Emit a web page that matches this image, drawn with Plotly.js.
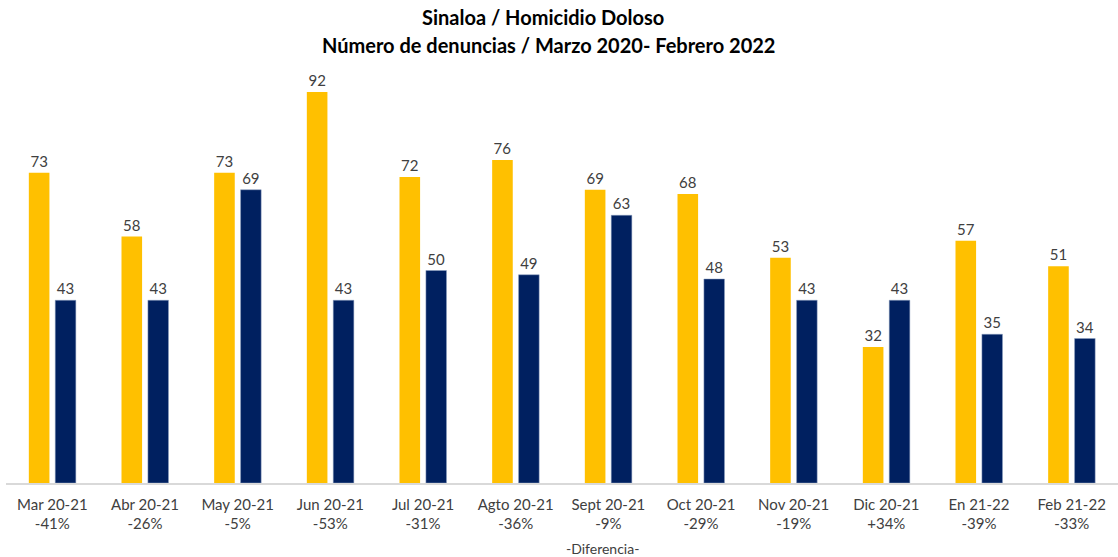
<!DOCTYPE html>
<html><head><meta charset="utf-8">
<script src="https://cdn.plot.ly/plotly-3.0.1.min.js"></script>
<style>html,body{margin:0;padding:0;background:#fff;}#chart{width:1118px;height:557px;}</style>
</head><body><div id="chart"></div>
<script>
const categories = ["Mar 20-21","Abr 20-21","May 20-21","Jun 20-21","Jul 20-21","Agto 20-21","Sept 20-21","Oct 20-21","Nov 20-21","Dic 20-21","En 21-22","Feb 21-22"];
const diferencia = ["-41%","-26%","-5%","-53%","-31%","-36%","-9%","-29%","-19%","+34%","-39%","-33%"];
const serie2020 = [73,58,73,92,72,76,69,68,53,32,57,51];
const serie2021 = [43,43,69,43,50,49,63,48,43,43,35,34];

const tickText = categories.map((c,i)=>c+"<br>"+diferencia[i]);
const fam = "Lato, 'Open Sans', sans-serif";
const labelFont = {family:fam, size:15, color:"#404040"};

const data = [
  {type:"bar", x:categories, y:serie2020, name:"2020", marker:{color:"#FFC000"},
   text:serie2020.map(String), textposition:"outside", textfont:labelFont, cliponaxis:false, hoverinfo:"skip"},
  {type:"bar", x:categories, y:serie2021, name:"2021", marker:{color:"#002060", line:{color:"#8fa0c0", width:0.5}},
   text:serie2021.map(String), textposition:"outside", textfont:labelFont, cliponaxis:false, hoverinfo:"skip"}
];

const layout = {
  width:1118, height:557,
  margin:{l:6, r:0, t:58, b:74},
  paper_bgcolor:"#fff", plot_bgcolor:"#fff",
  showlegend:false,
  barmode:"group", bargap:0.43, bargroupgap:0.22,
  annotations:[
    {text:"<b>Sinaloa / Homicidio Doloso</b>", xref:"paper", yref:"paper", x:0.483, y:1+(58-17)/425, xanchor:"center", yanchor:"middle",
     showarrow:false, font:{family:fam, size:20, color:"#000"}},
    {text:"<b>Número de denuncias / Marzo 2020- Febrero 2022</b>", xref:"paper", yref:"paper", x:0.488, y:1+(58-45)/425, xanchor:"center", yanchor:"middle",
     showarrow:false, font:{family:fam, size:20, color:"#000"}},
    {text:"-Diferencia-", xref:"paper", yref:"paper", x:0.536, y:-(548-483)/425, xanchor:"center", yanchor:"middle",
     showarrow:false, font:{family:fam, size:14, color:"#404040"}}
  ],
  xaxis:{tickmode:"array", tickvals:categories, ticktext:tickText, tickfont:labelFont, ticklabelstandoff:7,
         showline:true, linecolor:"#d9d9d9", linewidth:1.5, ticks:"", showgrid:false, zeroline:false, fixedrange:true},
  yaxis:{range:[0,100], visible:false, showgrid:false, zeroline:false, fixedrange:true}
};
Plotly.newPlot("chart", data, layout, {displayModeBar:false, staticPlot:true});
</script></body></html>
